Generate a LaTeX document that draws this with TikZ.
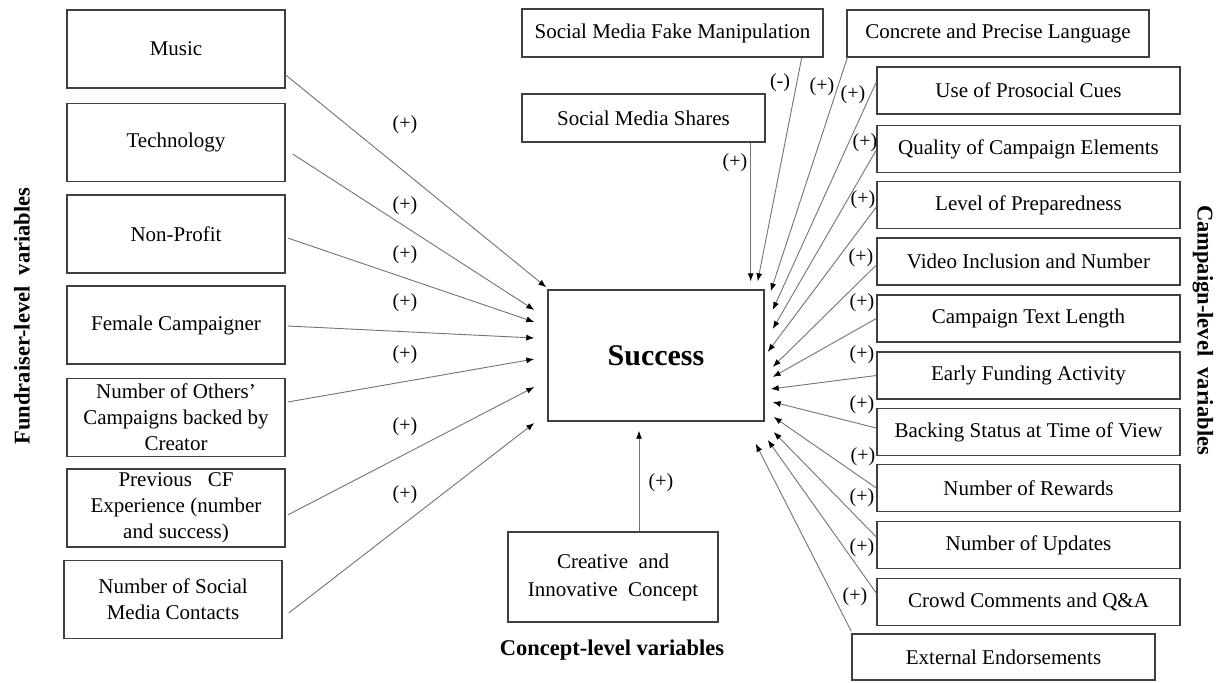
\documentclass[tikz,border=0pt]{standalone}
\usepackage{fontspec}
\setmainfont{Liberation Serif}
\usetikzlibrary{arrows.meta,positioning}

\begin{document}
\begin{tikzpicture}[x=1pt,y=-1pt,
    varbox/.style={draw=black!75,line width=1.4pt,align=center,inner sep=2pt,
        font=\fontsize{21}{26}\selectfont},
    leftbox/.style={varbox,minimum width=218pt,minimum height=78pt},
    rightbox/.style={varbox,minimum width=303pt,minimum height=47pt},
    sign/.style={inner sep=0pt,font=\fontsize{20}{24}\selectfont},
    grouplabel/.style={inner sep=0pt,font=\fontsize{22.5}{26}\selectfont\bfseries},
    link/.style={draw=black!55,line width=0.9pt,
        -{Latex[length=8pt,width=6pt,color=black]}}
]
                    \useasboundingbox (0,0) rectangle (1230,682);
                    % Labels
                    \node[grouplabel,rotate=90] (fundlbl) at (22,316) {Fundraiser-level~ variables};
                    \node[grouplabel,rotate=-90] (camplbl) at (1203,330) {Campaign-level~ variables};
                    \node[grouplabel] (conclbl) at (612,650) {Concept-level variables};
                    % Success
                    \node[varbox,minimum width=216pt,minimum height=131pt,
                        font=\fontsize{30}{34}\selectfont\bfseries] (succ) at (656,355.5) {Success};
                    % Fundraiser-level boxes
                    \node[leftbox] (music) at (176,49) {Music};
                    \node[leftbox] (tech) at (176,142.5) {Technology};
                    \node[leftbox] (nonprofit) at (176,234) {Non-Profit};
                    \node[leftbox] (female) at (176,325) {Female Campaigner};
                    \node[leftbox] (others) at (176,417.5) {Number of Others'\\Campaigns backed by\\Creator};
                    \node[leftbox] (prevcf) at (176,508) {Previous~~ CF\\Experience (number\\and success)};
                    \node[leftbox] (contacts) at (173,599.5) {Number of Social\\Media Contacts};
                    % Top boxes
                    \node[varbox,minimum width=301pt,minimum height=48pt] (fake) at (672.5,33) {Social Media Fake Manipulation};
                    \node[varbox,minimum width=243pt,minimum height=48pt] (shares) at (643.5,118) {Social Media Shares};
                    \node[varbox,minimum width=302pt,minimum height=47pt] (concrete) at (998,33.5) {Concrete and Precise Language};
                    % Campaign-level boxes
                    \node[rightbox] (prosocial) at (1028.5,90.5) {Use of Prosocial Cues};
                    \node[rightbox] (quality) at (1028.5,149) {Quality of Campaign Elements};
                    \node[rightbox] (prepared) at (1028.5,205) {Level of Preparedness};
                    \node[rightbox] (video) at (1028.5,261.5) {Video Inclusion and Number};
                    \node[rightbox] (textlen) at (1028.5,318.5) {Campaign Text Length};
                    \node[rightbox] (early) at (1028.5,375.5) {Early Funding Activity};
                    \node[rightbox] (backing) at (1028.5,432) {Backing Status at Time of View};
                    \node[rightbox] (rewards) at (1028.5,488) {Number of Rewards};
                    \node[rightbox] (updates) at (1028.5,545) {Number of Updates};
                    \node[rightbox] (crowd) at (1028.5,602) {Crowd Comments and Q\&A};
                    \node[rightbox,minimum height=46pt] (endorse) at (1003.5,657) {External Endorsements};
                    % Concept-level box
                    \node[varbox,minimum width=210pt,minimum height=90pt,
                        font=\fontsize{21}{28}\selectfont] (concept) at (613,577) {Creative~ and\\Innovative~ Concept};
                    % Fundraiser-level links
                    \draw[link] ([yshift=-26pt]music.east) -- ([shift={(-1pt,2pt)}]succ.north west);
                    \draw[link] ([shift={(7pt,-11.5pt)}]tech.east) -- ([shift={(-13pt,45.5pt)}]succ.west);
                    \draw[link] ([shift={(2pt,-4pt)}]nonprofit.east) -- ([shift={(-13pt,33.5pt)}]succ.west);
                    \draw[link] ([shift={(2pt,-1pt)}]female.east) -- ([shift={(-13pt,17.5pt)}]succ.west);
                    \draw[link] ([shift={(2pt,15.5pt)}]others.east) -- ([shift={(-13pt,-3.5pt)}]succ.west);
                    \draw[link] ([shift={(2pt,-7pt)}]prevcf.east) -- ([shift={(-13pt,-31.5pt)}]succ.west);
                    \draw[link] ([shift={(6pt,-13.5pt)}]contacts.east) -- ([shift={(-13pt,-67.5pt)}]succ.west);
                    % Top links
                    \draw[link] ([xshift=-15pt]shares.south east) -- ([shift={(-14pt,8pt)}]succ.north east);
                    \draw[link] ([xshift=-22pt]fake.south east) -- ([shift={(-7pt,8pt)}]succ.north east);
                    \draw[link] ([xshift=1pt]concrete.south west) -- ([shift={(6pt,-2pt)}]succ.north east);
                    % Campaign-level links
                    \draw[link] ([yshift=8.5pt]prosocial.west) -- ([shift={(8pt,45.5pt)}]succ.east);
                    \draw[link] ([yshift=-1pt]quality.west) -- ([shift={(8pt,26.5pt)}]succ.east);
                    \draw[link] ([yshift=-2pt]prepared.west) -- ([shift={(3pt,3.5pt)}]succ.east);
                    \draw[link] ([yshift=-3.5pt]video.west) -- ([shift={(8pt,-11.5pt)}]succ.east);
                    \draw[link] (textlen.west) -- ([shift={(8pt,-21.5pt)}]succ.east);
                    \draw[link] (early.west) -- ([shift={(6pt,-33.5pt)}]succ.east);
                    \draw[link] ([yshift=4pt]backing.west) -- ([shift={(8pt,-46.5pt)}]succ.east);
                    \draw[link] (rewards.west) -- ([shift={(9pt,-61.5pt)}]succ.east);
                    \draw[link] ([yshift=8pt]updates.west) -- ([shift={(9pt,-76.5pt)}]succ.east);
                    \draw[link] ([yshift=9pt]crowd.west) -- ([shift={(3pt,-84.5pt)}]succ.east);
                    \draw[link] ([yshift=2pt]endorse.north west) -- ([shift={(-9pt,-22pt)}]succ.south east);
                    % Concept-level link
                    \draw[link] ([xshift=26pt]concept.north) -- ([shift={(-17pt,-9pt)}]succ.south);
                    % Signs
                    \node[sign] (smusic) at (405,125) {(+)};
                    \node[sign] (stech) at (405,206) {(+)};
                    \node[sign] (snonprofit) at (405,255) {(+)};
                    \node[sign] (sfemale) at (405,303) {(+)};
                    \node[sign] (sothers) at (405,355) {(+)};
                    \node[sign] (sprevcf) at (405,427) {(+)};
                    \node[sign] (scontacts) at (405,495) {(+)};
                    \node[sign] (sshares) at (735,163) {(+)};
                    \node[sign] (sfake) at (780,83) {(-)};
                    \node[sign] (sconcrete) at (822,87) {(+)};
                    \node[sign] (sprosocial) at (853,95) {(+)};
                    \node[sign] (squality) at (865,143) {(+)};
                    \node[sign] (sprepared) at (863,200) {(+)};
                    \node[sign] (svideo) at (861,258) {(+)};
                    \node[sign] (stextlen) at (862,303) {(+)};
                    \node[sign] (searly) at (862,355) {(+)};
                    \node[sign] (sbacking) at (862,405) {(+)};
                    \node[sign] (srewards) at (863,457) {(+)};
                    \node[sign] (supdates) at (862,498) {(+)};
                    \node[sign] (scrowd) at (862,548) {(+)};
                    \node[sign] (sendorse) at (855,597) {(+)};
                    \node[sign] (sconcept) at (661,483) {(+)};
                \end{tikzpicture}
\end{document}
